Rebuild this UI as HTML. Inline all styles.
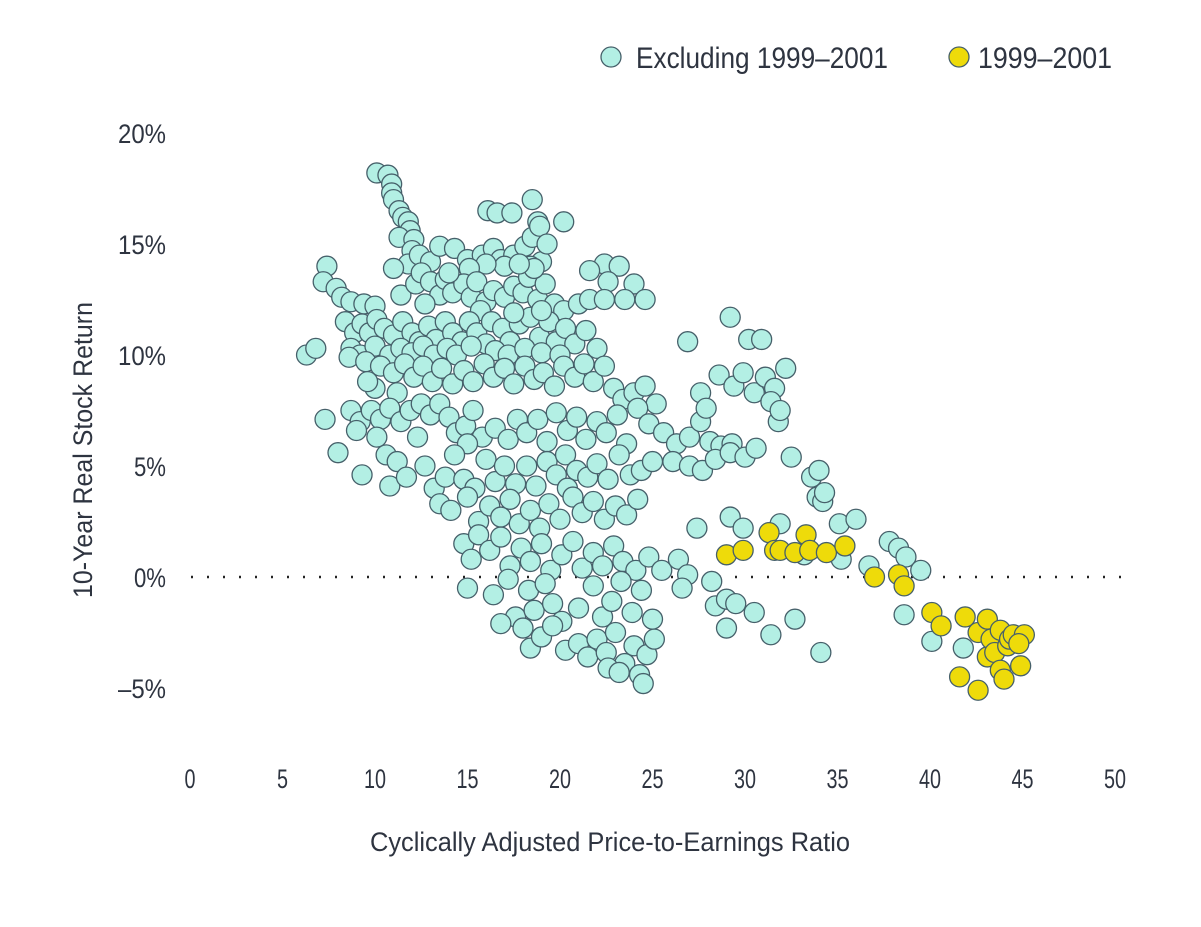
<!DOCTYPE html>
<html><head><meta charset="utf-8"><style>
html,body{margin:0;padding:0;background:#fff;}
svg{display:block;font-family:"Liberation Sans Narrow","Liberation Sans",sans-serif;}
</style></head><body>
<svg id="chart" width="1201" height="927" viewBox="0 0 1201 927">
<g id="legend">
 <g><circle cx="611" cy="57" r="10" fill="#b3efe4" stroke="#46606a" stroke-width="1.3"/><text x="636" y="68" font-size="30" fill="#2e3440" textLength="252" lengthAdjust="spacingAndGlyphs">Excluding 1999–2001</text></g>
 <g><circle cx="959" cy="57" r="10" fill="#eedb0a" stroke="#46606a" stroke-width="1.3"/><text x="978" y="68" font-size="30" fill="#2e3440" textLength="134" lengthAdjust="spacingAndGlyphs">1999–2001</text></g>
</g>
<g id="yaxis"></g>
<g id="xaxis"></g>
<line x1="191" y1="577" x2="1130" y2="577" stroke="#222" stroke-width="2.5" stroke-dasharray="2,14"/>
<g id="pts"></g>
<text x="92" y="450" font-size="27" fill="#2e3440" text-anchor="middle" transform="rotate(-90 92 450)" textLength="296" lengthAdjust="spacingAndGlyphs">10-Year Real Stock Return</text>
<text x="610" y="851" font-size="27" fill="#2e3440" text-anchor="middle" textLength="480" lengthAdjust="spacingAndGlyphs">Cyclically Adjusted Price-to-Earnings Ratio</text>
</svg>
<script>
const xTicks=[0,5,10,15,20,25,30,35,40,45,50];
const yTicks=[20,15,10,5,0,-5];
const yTickLabels=["20%","15%","10%","5%","0%","–5%"];
const excluding=[
[10.1,18.2],[10.7,18.1],[10.9,17.7],[10.9,17.3],[16.1,16.5],[16.6,16.4],[17.4,16.4],[18.5,17.0],[18.8,16.0],[20.2,16.0],[11.0,17.0],[11.3,16.5],
[11.5,16.2],[11.8,16.0],[11.9,15.6],[11.3,15.3],[12.1,15.2],[12.0,14.7],[11.8,14.1],[12.4,14.5],[13.0,14.2],[13.5,14.9],[14.3,14.8],[15.0,14.3],[15.8,14.5],[16.4,14.8],[16.8,14.3],[17.5,14.5],[18.1,14.9],[18.5,15.3],[18.9,15.8],[19.0,14.2],[18.4,14.0],[17.0,14.0],[16.0,14.1],[22.4,14.1],[21.6,13.8],[23.2,14.0],[24.0,13.2],[22.6,13.3],[7.4,14.0],[19.3,15.0],[15.1,13.9],
[7.2,13.3],[7.9,13.0],[8.2,12.6],[8.7,12.4],[9.4,12.3],[10.0,12.2],[11.0,13.9],[11.4,12.7],[12.2,13.2],[12.5,13.7],[13.0,13.3],[13.5,12.7],[13.8,13.4],[14.2,12.8],[14.8,13.2],[15.2,12.6],[15.5,13.3],[16.0,12.4],[16.4,12.9],[17.0,12.6],[17.5,13.1],[18.0,12.8],[18.3,13.5],[18.8,12.5],[19.2,13.2],[19.7,12.3],[20.2,12.0],[21.0,12.3],[21.6,12.5],[22.4,12.5],[23.5,12.5],[24.6,12.5],[18.6,13.9],[17.8,14.1],[14.0,13.7],[12.7,12.3],[15.7,12.0],
[8.4,11.5],[8.9,11.0],[9.3,11.4],[9.7,11.0],[10.1,11.6],[10.5,11.2],[11.0,10.9],[11.5,11.5],[12.0,11.0],[12.4,10.6],[12.9,11.3],[13.3,10.7],[13.8,11.5],[14.2,11.0],[14.7,10.6],[15.1,11.5],[15.5,11.0],[16.0,10.5],[16.3,11.5],[16.9,11.2],[17.3,10.6],[17.8,11.4],[18.4,11.7],[18.9,10.8],[19.4,11.5],[19.8,10.6],[20.3,11.2],[20.8,10.5],[21.4,11.1],[22.0,10.3],[26.9,10.6],[29.2,11.7],[30.2,10.7],[30.9,10.7],[6.3,10.0],[6.8,10.3],[8.7,10.3],[9.2,10.0],[10.0,10.4],[10.8,10.0],[11.4,10.3],[12.0,10.1],[12.6,10.4],[13.2,10.0],[13.9,10.3],[14.4,10.0],[15.2,10.4],[16.5,10.2],[17.2,10.0],[18.1,10.3],[19.0,10.1],[20.0,10.0],[17.5,11.9],[19.0,12.0],
[8.6,9.9],[9.5,9.7],[10.3,9.5],[11.0,9.2],[11.6,9.6],[12.1,9.0],[12.6,9.5],[13.1,8.8],[13.6,9.4],[14.2,8.7],[14.8,9.3],[15.3,8.8],[15.9,9.6],[16.4,9.0],[17.0,9.4],[17.5,8.7],[18.1,9.5],[18.6,8.9],[19.1,9.2],[19.7,8.6],[20.2,9.5],[20.8,9.0],[21.3,9.6],[21.8,8.8],[22.4,9.5],[22.9,8.5],[23.4,8.0],[24.0,8.3],[24.6,8.6],[25.2,7.8],[27.6,8.3],[28.6,9.1],[29.4,8.6],[29.9,9.2],[30.5,8.3],[31.1,9.0],[31.6,8.5],[32.2,9.4],[31.4,7.9],[10.0,8.5],[11.2,8.3],[9.6,8.8],
[7.3,7.1],[8.7,7.5],[9.2,7.0],[9.8,7.5],[10.3,7.1],[10.8,7.6],[11.4,7.0],[11.9,7.5],[12.5,7.8],[13.0,7.3],[13.5,7.8],[14.0,7.2],[14.4,6.5],[14.9,6.8],[15.3,7.5],[15.8,6.3],[16.5,6.7],[17.2,6.2],[17.7,7.1],[18.2,6.5],[18.8,7.1],[19.3,6.1],[19.8,7.4],[20.4,6.6],[20.9,7.2],[21.4,6.2],[22.0,7.0],[22.5,6.5],[23.1,7.3],[23.6,6.0],[24.2,7.6],[24.8,6.9],[25.6,6.5],[26.3,6.0],[27.0,6.3],[27.6,7.0],[28.1,6.1],[28.7,5.9],[29.3,6.0],[27.9,7.6],[31.8,7.0],[31.9,7.5],[9.0,6.6],[10.1,6.3],[12.3,6.3],[15.0,6.0],
[8.0,5.6],[9.3,4.6],[10.6,5.5],[10.8,4.1],[11.2,5.2],[11.7,4.5],[12.7,5.0],[13.2,4.0],[13.8,4.5],[14.3,5.5],[14.8,4.4],[15.4,4.0],[16.0,5.3],[16.5,4.3],[17.0,5.0],[17.6,4.2],[18.2,5.0],[18.7,4.1],[19.3,5.2],[19.8,4.6],[20.3,5.5],[20.9,4.8],[21.5,4.5],[22.0,5.1],[22.6,4.4],[23.2,5.5],[23.8,4.6],[24.4,4.8],[25.0,5.2],[26.1,5.2],[27.0,5.0],[27.7,4.8],[28.4,5.3],[29.2,5.6],[30.0,5.4],[30.6,5.8],[32.5,5.4],[33.6,4.5],[34.0,4.8],[20.4,4.0],
[13.5,3.3],[14.1,3.0],[15.0,3.6],[15.6,2.5],[16.2,3.2],[16.8,2.7],[17.3,3.5],[17.8,2.4],[18.4,3.0],[18.9,2.2],[19.4,3.3],[20.0,2.6],[20.7,3.6],[21.2,2.9],[21.8,3.4],[22.4,2.6],[23.0,3.2],[23.6,2.8],[24.2,3.5],[29.2,2.7],[29.9,2.2],[31.9,2.4],[33.9,3.6],[34.2,3.4],[34.3,3.8],[35.1,2.4],[36.0,2.6],[27.4,2.2],
[14.8,1.5],[15.2,0.8],[15.6,1.9],[16.2,1.2],[16.8,1.8],[17.3,0.5],[17.9,1.3],[18.4,0.7],[19.0,1.5],[19.5,0.3],[20.1,1.0],[20.7,1.6],[21.2,0.4],[21.8,1.1],[22.3,0.5],[22.9,1.4],[23.4,0.7],[24.1,0.3],[24.8,0.9],[25.5,0.3],[26.4,0.8],[26.9,0.1],[35.2,0.8],[36.7,0.5],[37.8,1.6],[38.3,1.3],[38.7,0.9],[39.5,0.3],[33.2,1.0],
[15.0,-0.5],[16.4,-0.8],[17.2,-0.1],[17.6,-1.8],[18.3,-0.6],[18.6,-1.5],[19.2,-0.3],[19.6,-1.2],[20.1,-2.0],[21.0,-1.4],[21.8,-0.4],[22.3,-1.8],[22.8,-1.1],[23.3,-0.2],[23.9,-1.6],[24.4,-0.6],[25.0,-1.9],[26.6,-0.5],[28.2,-0.2],[28.4,-1.3],[29.0,-1.0],[29.5,-1.2],[30.5,-1.6],[38.6,-1.7],
[16.8,-2.1],[18.0,-2.3],[18.4,-3.2],[19.0,-2.7],[19.6,-2.2],[20.3,-3.3],[21.0,-3.0],[21.5,-3.6],[22.0,-2.8],[22.5,-3.4],[23.0,-2.5],[23.5,-3.9],[24.0,-3.1],[24.3,-4.4],[24.7,-3.5],[25.1,-2.8],[22.6,-4.1],[23.2,-4.3],[24.5,-4.8],[29.0,-2.3],[31.4,-2.6],[32.7,-1.9],[34.1,-3.4],[40.1,-2.9],[41.8,-3.2]
];
const bubble=[
[29.0,1.0],[29.9,1.2],[31.3,2.0],[31.6,1.2],[31.9,1.2],[32.7,1.1],[33.3,1.9],[33.5,1.2],[34.4,1.1],[35.4,1.4],[37.0,0.0],[38.3,0.1],[38.6,-0.4],[40.1,-1.6],[40.6,-2.2],[41.6,-4.5],[41.9,-1.8],[42.6,-2.5],[42.6,-5.1],[43.1,-1.9],[43.1,-3.6],[43.3,-2.8],[43.5,-3.4],[43.8,-2.4],[43.8,-4.2],[44.0,-4.6],[44.2,-3.1],[44.3,-2.8],[44.5,-2.6],[44.9,-4.0],[45.1,-2.6],[44.8,-3.0]
];
const NS='http://www.w3.org/2000/svg';
function xs(v){return 190+v*18.5;}
function ys(v){return 577-v*22.2;}
const xa=document.getElementById('xaxis');
xTicks.forEach(t=>{
 const e=document.createElementNS(NS,'text');
 e.setAttribute('x',xs(t));e.setAttribute('y',788);e.setAttribute('font-size','27');e.setAttribute('fill','#2e3440');e.setAttribute('text-anchor','middle');
 e.setAttribute('textLength',String(t).length*11);e.setAttribute('lengthAdjust','spacingAndGlyphs');
 e.textContent=t;
 
 
 xa.appendChild(e);
});
const ya=document.getElementById('yaxis');
yTicks.forEach((t,i)=>{
 const e=document.createElementNS(NS,'text');
 e.setAttribute('x',166);e.setAttribute('y',ys(t)+10);e.setAttribute('font-size','27');e.setAttribute('fill','#2e3440');e.setAttribute('text-anchor','end');
 e.setAttribute('textLength',yTickLabels[i].length*16);e.setAttribute('lengthAdjust','spacingAndGlyphs');
 e.textContent=yTickLabels[i];
 
 
 ya.appendChild(e);
});
const g=document.getElementById('pts');
function draw(arr,fill,name){
 arr.forEach(p=>{
  const c=document.createElementNS(NS,'circle');
  c.setAttribute('cx',xs(p[0]));c.setAttribute('cy',ys(p[1]));c.setAttribute('r',10);
  c.setAttribute('fill',fill);c.setAttribute('stroke','#46606a');c.setAttribute('stroke-width','1.3');
  
  
  g.appendChild(c);
 });
}
draw(excluding,'#b3efe4','point-excluding-1999-2001');
draw(bubble,'#eedb0a','point-1999-2001');
</script>
</body></html>
